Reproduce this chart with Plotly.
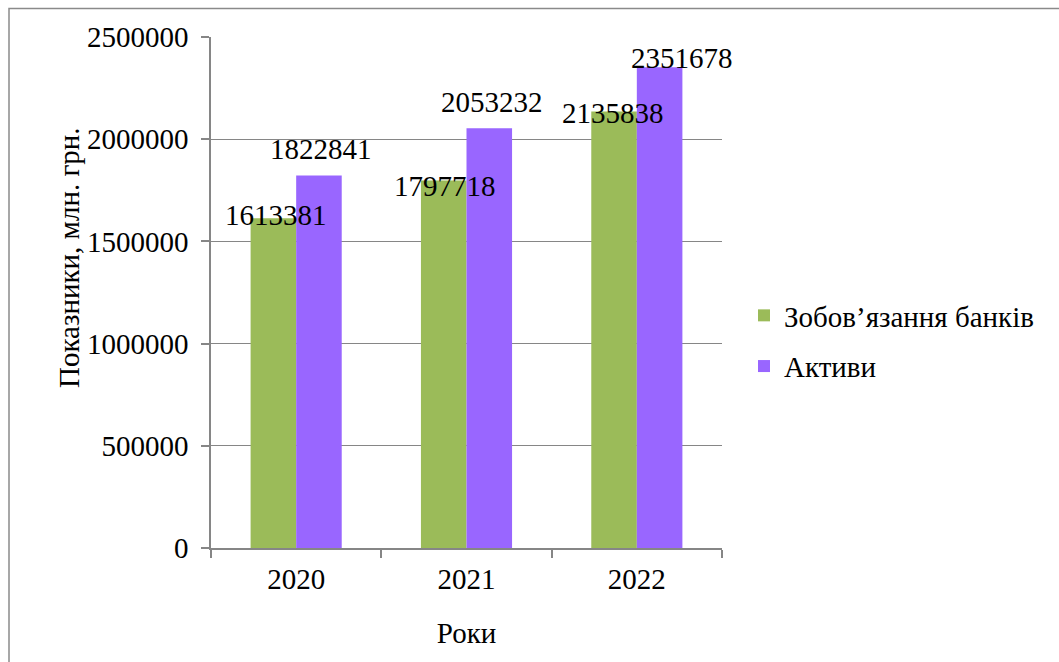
import plotly.graph_objects as go

# Bank liabilities vs assets, UAH million
years = ["2020", "2021", "2022"]
liabilities = [1613381, 1797718, 2135838]
assets = [1822841, 2053232, 2351678]
series_names = ["Зобов’язання банків", "Активи"]
y_ticks = [0, 500000, 1000000, 1500000, 2000000, 2500000]

GREEN = "#9BBB59"
PURPLE = "#9966FF"
GRID = "#868686"
FONT = "Liberation Serif"
FS = 29

W, H = 1059, 662
L, R, T, B = 211, 722, 37, 548  # plot area in pixels


def px_x(p):
    return (p - L) / (R - L)


def px_y(p):
    return (B - p) / (B - T)


fig = go.Figure()
fig.add_trace(go.Bar(x=years, y=liabilities, name=series_names[0],
                     marker=dict(color=GREEN, line=dict(width=0)),
                     legendgroup="a"))
fig.add_trace(go.Bar(x=years, y=assets, name=series_names[1],
                     marker=dict(color=PURPLE, line=dict(width=0)),
                     legendgroup="b"))

# value labels placed near the top of each bar (x / y offsets in px);
# x is given as the category index so numeric-looking names stay categories
label_dx = {0: [-20, -22, -24], 1: [25, 25.5, 45]}
label_dy = {0: [3, -5, -2], 1: [26.5, 26.5, 9]}
for si, vals in enumerate([liabilities, assets]):
    for i, v in enumerate(vals):
        fig.add_annotation(x=i, y=v, xref="x", yref="y", text=str(v),
                           showarrow=False, xanchor="center", yanchor="middle",
                           xshift=label_dx[si][i], yshift=label_dy[si][i],
                           font=dict(family=FONT, size=FS, color="black"))

# y-axis title
fig.add_annotation(x=px_x(69), y=px_y(258), xref="paper", yref="paper",
                   text="Показники, млн. грн.", textangle=-90, showarrow=False,
                   xanchor="center", yanchor="middle",
                   font=dict(family=FONT, size=FS, color="black"))

# chart frame
fig.add_shape(type="rect", xref="paper", yref="paper",
              x0=px_x(9), x1=px_x(1080), y0=px_y(690), y1=px_y(8.5),
              line=dict(color="#8a8a8a", width=1.5), layer="below")

fig.update_layout(
    width=W, height=H,
    margin=dict(l=L, r=W - R, t=T, b=H - B, pad=0, autoexpand=False),
    paper_bgcolor="white", plot_bgcolor="white",
    barmode="group", bargap=0.465, bargroupgap=0,
    font=dict(family=FONT, size=FS, color="black"),
    showlegend=True,
    legend=dict(x=px_x(744), y=px_y(341), xanchor="left", yanchor="middle",
                traceorder="grouped", tracegroupgap=10,
                font=dict(family=FONT, size=FS, color="black"),
                bgcolor="rgba(0,0,0,0)"),
    xaxis=dict(type="category", range=[-0.5, 2.5], automargin=False,
               showline=True, linecolor=GRID, linewidth=1.5,
               ticks="outside", tickson="boundaries", ticklen=8,
               tickcolor=GRID, tickwidth=1.5, showgrid=False,
               tickangle=0, ticklabelstandoff=4,
               tickfont=dict(family=FONT, size=FS),
               title=dict(text="Роки", font=dict(family=FONT, size=FS),
                          standoff=29)),
    yaxis=dict(range=[0, 2500000], tickvals=y_ticks, automargin=False,
               ticktext=[str(v) for v in y_ticks],
               showline=True, linecolor=GRID, linewidth=1.5,
               ticks="outside", ticklen=8, tickcolor=GRID, tickwidth=1.5,
               ticklabelstandoff=7,
               showgrid=True, gridcolor=GRID, gridwidth=1.2, zeroline=False,
               tickfont=dict(family=FONT, size=FS)),
)

fig.write_html("out.html")
